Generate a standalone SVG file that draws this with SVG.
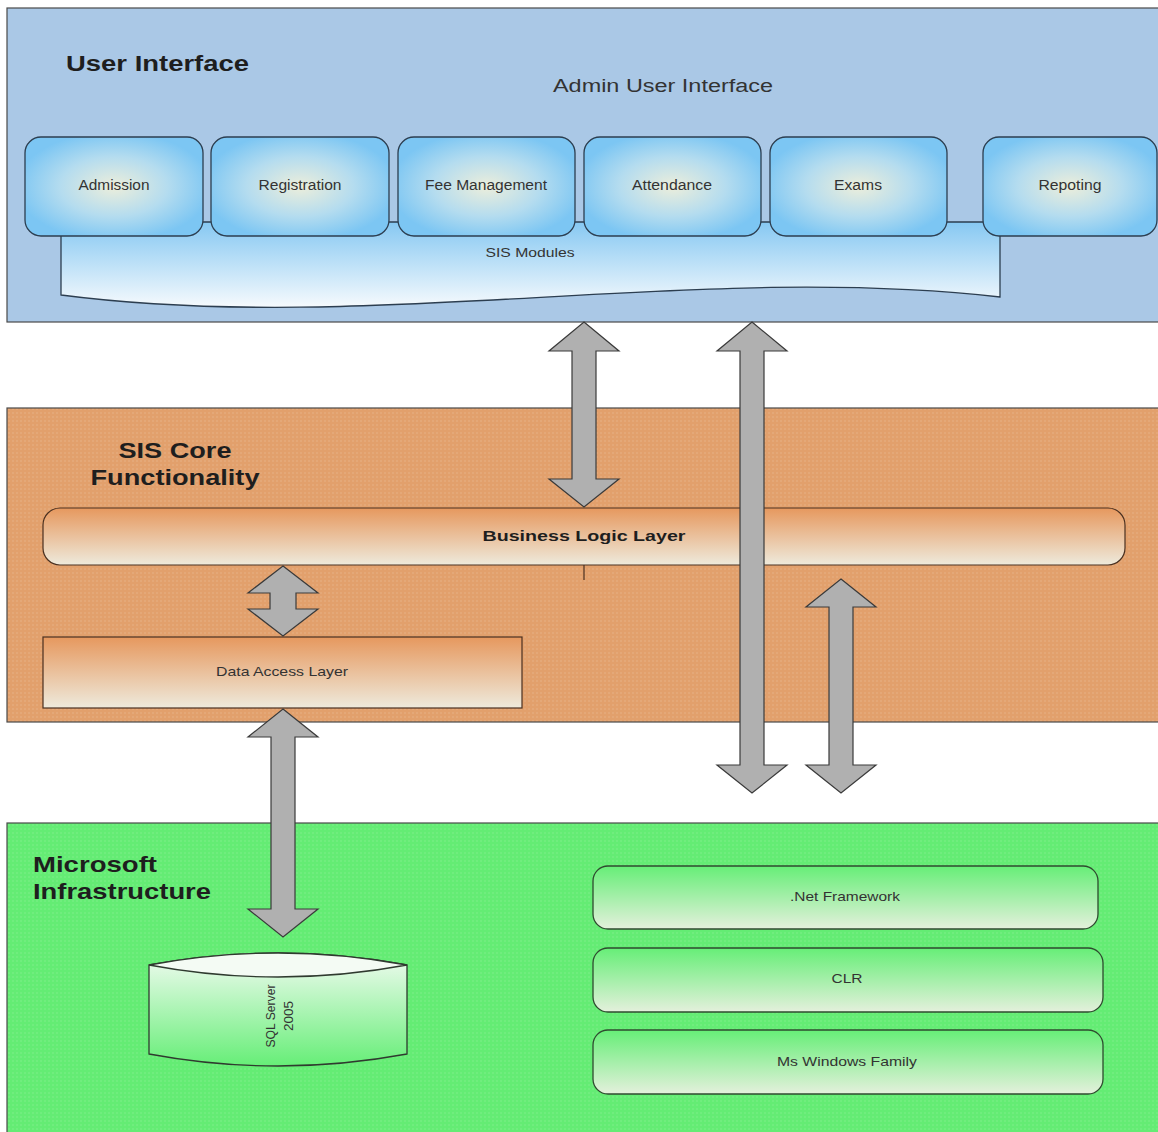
<svg xmlns="http://www.w3.org/2000/svg" width="1158" height="1132" viewBox="0 0 1158 1132">
<defs>
<style>
.title{font-family:"Liberation Sans",Arial,sans-serif;font-weight:bold;font-size:22px;fill:#1e1e1e}
.lbl{font-family:"Liberation Sans",Arial,sans-serif;font-size:14px;fill:#333}
.sm{font-family:"Liberation Sans",Arial,sans-serif;font-size:13px;fill:#333}
.panel{stroke:#4a4a4a;stroke-width:1.2}
.mod{fill:url(#modG);stroke:#2c3e50;stroke-width:1.3}
.arrow{fill:#b0b0b0;stroke:#3a3a3a;stroke-width:1.2;stroke-linejoin:miter}
.box{stroke:#4a3020;stroke-width:1.2}
.gbox{fill:url(#greenBoxG);stroke:#2f4a2f;stroke-width:1.3}
</style>
<radialGradient id="modG" cx="50%" cy="50%" r="55%">
<stop offset="0" stop-color="#eceedb"/>
<stop offset="0.55" stop-color="#b4dcef"/>
<stop offset="1" stop-color="#7cc6f3"/>
</radialGradient>
<linearGradient id="docG" x1="0" y1="0" x2="0" y2="1">
<stop offset="0" stop-color="#86c8f2"/>
<stop offset="1" stop-color="#f6fafd"/>
</linearGradient>
<linearGradient id="orangeG" x1="0" y1="0" x2="0" y2="1">
<stop offset="0" stop-color="#e6985e"/>
<stop offset="1" stop-color="#eeeadc"/>
</linearGradient>
<linearGradient id="greenBoxG" x1="0" y1="0" x2="0" y2="1">
<stop offset="0" stop-color="#66ee77"/>
<stop offset="1" stop-color="#e4f0dc"/>
</linearGradient>
<linearGradient id="cylG" x1="0" y1="0" x2="0" y2="1">
<stop offset="0" stop-color="#f2fbf2"/>
<stop offset="1" stop-color="#66ee77"/>
</linearGradient>
<pattern id="dotO" width="4" height="4" patternUnits="userSpaceOnUse">
<rect width="4" height="4" fill="#e2a06c"/>
<circle cx="1" cy="1" r="0.7" fill="#eab88c"/>
</pattern>
<pattern id="dotG" width="4" height="4" patternUnits="userSpaceOnUse">
<rect width="4" height="4" fill="#64ec74"/>
<circle cx="1" cy="1" r="0.7" fill="#86f090"/>
</pattern>
</defs>

<g id="panel-ui">
<rect class="panel" x="7" y="8" width="1160" height="314" fill="#aac8e6"/>
<text class="title" x="66" y="71" textLength="183" lengthAdjust="spacingAndGlyphs">User Interface</text>
<text class="lbl" x="553" y="92" font-size="18" textLength="220" lengthAdjust="spacingAndGlyphs" style="font-size:18px">Admin User Interface</text>
</g>

<g id="sis-modules">
<path d="M61,222 H1000 V297 C690,262 370,335 61,295 Z" fill="url(#docG)" stroke="#2c3e50" stroke-width="1.3"/>
<text class="sm" x="530" y="257" text-anchor="middle" textLength="89" lengthAdjust="spacingAndGlyphs">SIS Modules</text>
</g>

<g id="mod-admission">
<rect class="mod" x="25" y="137" width="178" height="99" rx="16"/>
<text class="lbl" x="114" y="190" text-anchor="middle" textLength="71" lengthAdjust="spacingAndGlyphs">Admission</text>
</g>
<g id="mod-registration">
<rect class="mod" x="211" y="137" width="178" height="99" rx="16"/>
<text class="lbl" x="300" y="190" text-anchor="middle" textLength="83" lengthAdjust="spacingAndGlyphs">Registration</text>
</g>
<g id="mod-fee">
<rect class="mod" x="398" y="137" width="177" height="99" rx="16"/>
<text class="lbl" x="486" y="190" text-anchor="middle" textLength="122" lengthAdjust="spacingAndGlyphs">Fee Management</text>
</g>
<g id="mod-attendance">
<rect class="mod" x="584" y="137" width="177" height="99" rx="16"/>
<text class="lbl" x="672" y="190" text-anchor="middle" textLength="80" lengthAdjust="spacingAndGlyphs">Attendance</text>
</g>
<g id="mod-exams">
<rect class="mod" x="770" y="137" width="177" height="99" rx="16"/>
<text class="lbl" x="858" y="190" text-anchor="middle" textLength="48" lengthAdjust="spacingAndGlyphs">Exams</text>
</g>
<g id="mod-reporting">
<rect class="mod" x="983" y="137" width="174" height="99" rx="16"/>
<text class="lbl" x="1070" y="190" text-anchor="middle" textLength="63" lengthAdjust="spacingAndGlyphs">Repoting</text>
</g>

<g id="panel-core">
<rect class="panel" x="7" y="408" width="1160" height="314" fill="url(#dotO)"/>
<text class="title" x="175" y="458" text-anchor="middle" textLength="113" lengthAdjust="spacingAndGlyphs">SIS Core</text>
<text class="title" x="175" y="485" text-anchor="middle" textLength="169" lengthAdjust="spacingAndGlyphs">Functionality</text>
</g>

<g id="bll">
<rect class="box" x="43" y="508" width="1082" height="57" rx="17" fill="url(#orangeG)"/>
<text class="lbl" x="584" y="541" text-anchor="middle" font-weight="bold" textLength="203" lengthAdjust="spacingAndGlyphs" style="font-weight:bold;font-size:15px;fill:#1e1e1e">Business Logic Layer</text>
<line x1="584" y1="565" x2="584" y2="580" stroke="#4a3020" stroke-width="1.2"/>
</g>

<g id="dal">
<rect class="box" x="43" y="637" width="479" height="71" fill="url(#orangeG)"/>
<text class="sm" x="282" y="676" text-anchor="middle" textLength="132" lengthAdjust="spacingAndGlyphs">Data Access Layer</text>
</g>

<g id="panel-ms">
<rect class="panel" x="7" y="823" width="1160" height="320" fill="url(#dotG)"/>
<text class="title" x="33" y="872" textLength="124" lengthAdjust="spacingAndGlyphs">Microsoft</text>
<text class="title" x="33" y="899" textLength="178" lengthAdjust="spacingAndGlyphs">Infrastructure</text>
</g>

<g id="sql-server">
<path d="M149,965 Q278,941 407,965 L407,1054 Q278,1078 149,1054 Z" fill="url(#cylG)" stroke="#2f3a2f" stroke-width="1.3"/>
<path d="M149,965 Q278,941 407,965 Q278,989 149,965 Z" fill="#f4fbf4" stroke="#2f3a2f" stroke-width="1.3"/>
<text class="sm" transform="translate(278,1016) rotate(-90)" text-anchor="middle"><tspan x="0" y="-3" textLength="63" lengthAdjust="spacingAndGlyphs">SQL Server</tspan><tspan x="0" y="15" textLength="30" lengthAdjust="spacingAndGlyphs">2005</tspan></text>
</g>

<g id="net-framework">
<rect class="gbox" x="593" y="866" width="505" height="63" rx="15"/>
<text class="sm" x="845" y="901" text-anchor="middle" textLength="110" lengthAdjust="spacingAndGlyphs">.Net Framework</text>
</g>
<g id="clr">
<rect class="gbox" x="593" y="948" width="510" height="64" rx="15"/>
<text class="sm" x="847" y="983" text-anchor="middle" textLength="31" lengthAdjust="spacingAndGlyphs">CLR</text>
</g>
<g id="ms-windows">
<rect class="gbox" x="593" y="1030" width="510" height="64" rx="15"/>
<text class="sm" x="847" y="1066" text-anchor="middle" textLength="140" lengthAdjust="spacingAndGlyphs">Ms Windows Family</text>
</g>

<g id="connectors">
<polygon class="arrow" points="584,322 619,351 596,351 596,479 619,479 584,507 549,479 572,479 572,351 549,351"/>
<polygon class="arrow" points="752,322 787,351 764,351 764,765 787,765 752,793 717,765 740,765 740,351 717,351"/>
<polygon class="arrow" points="841,579 876,607 853,607 853,765 876,765 841,793 806,765 829,765 829,607 806,607"/>
<polygon class="arrow" points="283,566 318,593 296,593 296,609 318,609 283,636 248,609 270,609 270,593 248,593"/>
<polygon class="arrow" points="283,709 318,737 295,737 295,909 318,909 283,937 248,909 271,909 271,737 248,737"/>
</g>
</svg>
